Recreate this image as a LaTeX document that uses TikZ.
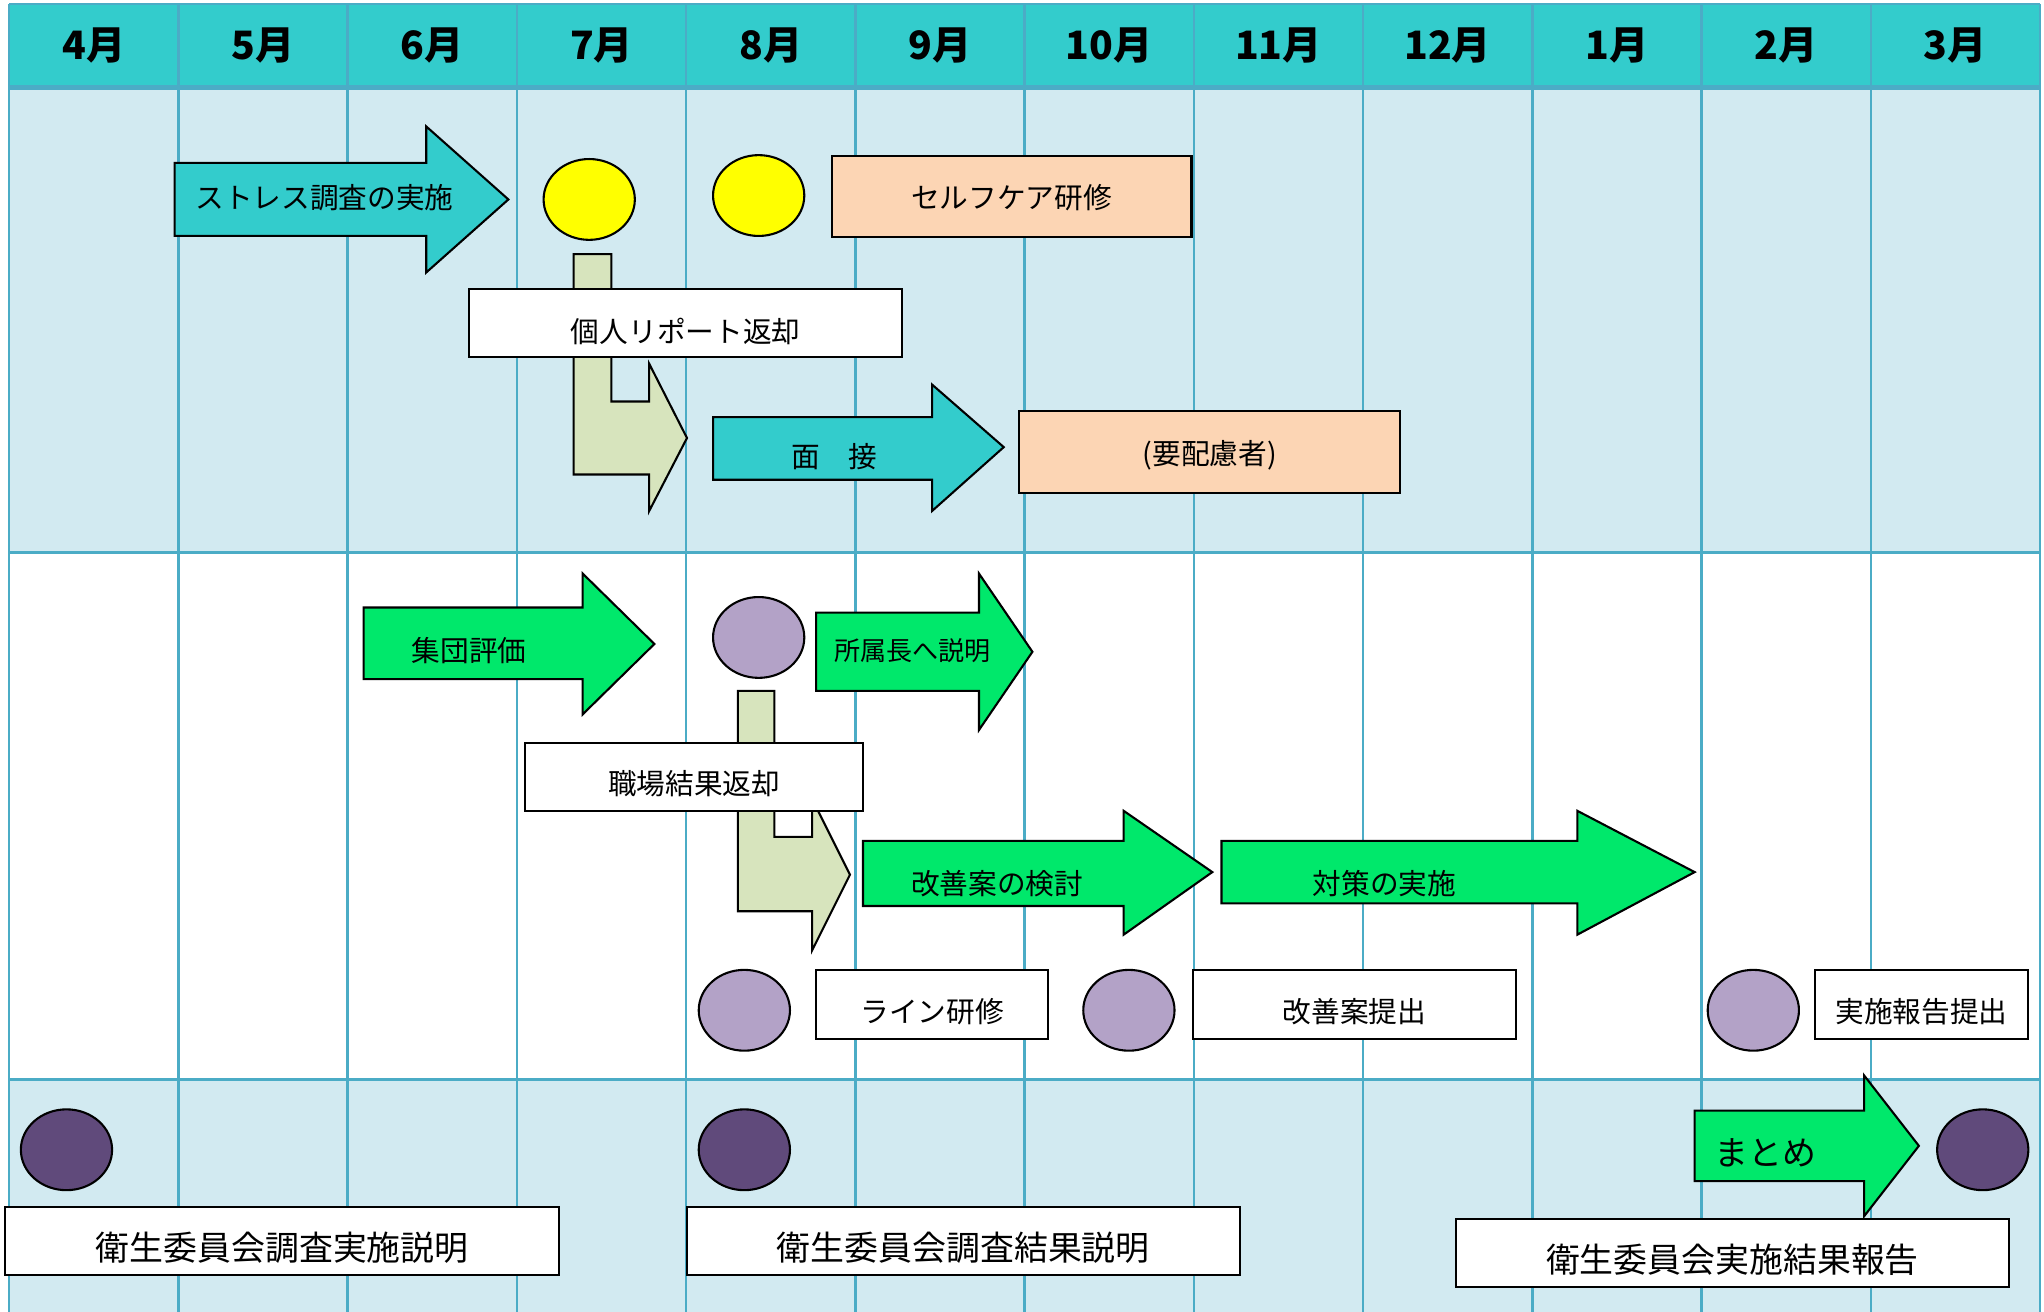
\documentclass[tikz,border=0pt]{standalone}
\usepackage{fontspec}
\setmainfont{Noto Sans CJK JP}
\usetikzlibrary{shapes.geometric}
\definecolor{rowblue}{HTML}{D2EAF1}
\definecolor{gridc}{HTML}{4BACC6}
\definecolor{headc}{HTML}{33CCCC}
\definecolor{tealc}{HTML}{33CCCC}
\definecolor{peach}{HTML}{FCD5B4}
\definecolor{olive}{HTML}{D7E4BD}
\definecolor{gr}{HTML}{00E86B}
\definecolor{lpur}{HTML}{B3A2C7}
\definecolor{dpur}{HTML}{604A7B}
\definecolor{yel}{HTML}{FFFF00}
\tikzset{
  shp/.style={draw=black, line width=0.8pt, line join=miter},
  box/.style={draw=black, line width=0.8pt, inner sep=0pt, minimum height=26pt},
  lbl/.style={inner sep=0pt, font=\fontsize{11}{13}\selectfont},
  lblbig/.style={inner sep=0pt, font=\fontsize{13}{15}\selectfont},
  dot/.style={ellipse, draw=black, line width=0.8pt, minimum width=35pt, minimum height=31pt, inner sep=0pt},
  month/.style={inner sep=0pt, font=\fontsize{15}{17}\selectfont\bfseries},
  gridl/.style={draw=gridc, line width=1pt},
}
\begin{document}
\begin{tikzpicture}[x=0.5pt,y=-0.5pt]
\useasboundingbox (0,0) rectangle (1568,1006.4);
% backgrounds
\fill[white] (0,0) rectangle (1568,1006.4);
\fill[headc] (7,3) rectangle (1565,67);
\fill[rowblue] (7,67) rectangle (1565,424);
\fill[rowblue] (7,828) rectangle (1565,1006.4);
% grid
\foreach \i in {0,...,12} {
  \draw[gridl] ({7+129.83*\i},3) -- ({7+129.83*\i},1006.4);
}
\draw[gridl] (7,3) -- (1565,3);
\draw[draw=gridc, line width=2pt] (7,67) -- (1565,67);
\draw[gridl] (7,424) -- (1565,424);
\draw[gridl] (7,828) -- (1565,828);
% months
\foreach \m [count=\i from 0] in {4,5,6,7,8,9,10,11,12,1,2,3} {
  \node[month] (m\i) at ({71.9+129.83*\i},35) {\m 月};
}
% ---- row 1 ----
\draw[shp, fill=tealc] (134,125) -- (327,125) -- (327,97) -- (390,153) -- (327,209) -- (327,181) -- (134,181) -- cycle;
\node[lbl] (t1) at (249,152) {ストレス調査の実施};
\node[dot, fill=yel] (y1) at (452,153) {};
\node[dot, fill=yel] (y2) at (582,150) {};
\node[box, fill=peach, minimum width=138pt, minimum height=31pt] (selfcare) at (776,151) {};
\node[lbl] (selfcaret) at ([yshift=-0.3pt]selfcare.center) {セルフケア研修};
\draw[shp, fill=olive] (440,195) -- (469,195) -- (469,308) -- (498,308) -- (498,279) -- (527,336) -- (498,392) -- (498,364) -- (440,364) -- cycle;
\node[box, fill=white, minimum width=166pt] (kojin) at (526,248) {};
\node[lbl] (kojint) at ([yshift=-3pt]kojin.center) {個人リポート返却};
\draw[shp, fill=tealc] (547,320) -- (715,320) -- (715,295) -- (770,343) -- (715,392) -- (715,368) -- (547,368) -- cycle;
\node[lbl] (mensetsu) at (640,350) {面　接};
\node[box, fill=peach, minimum width=146pt, minimum height=31.5pt] (yohairyo) at (928,346.5) {};
\node[lbl] (yohairyot) at ([yshift=-1.2pt]yohairyo.center) {(要配慮者)};
% ---- row 2 ----
\draw[shp, fill=gr] (279,466) -- (447,466) -- (447,440) -- (502,494) -- (447,548) -- (447,521) -- (279,521) -- cycle;
\node[lbl] (shudan) at (360,499) {集団評価};
\node[dot, fill=lpur] (p1) at (582,489) {};
\draw[shp, fill=gr] (626,470) -- (751,470) -- (751,440) -- (792,500) -- (751,560) -- (751,530) -- (626,530) -- cycle;
\node[inner sep=0pt, font=\fontsize{10}{12}\selectfont] (shozoku) at (700,499) {所属長へ説明};
\draw[shp, fill=olive] (566,530) -- (594,530) -- (594,642) -- (623,642) -- (623,613) -- (652,671) -- (623,729) -- (623,699) -- (566,699) -- cycle;
\node[box, fill=white, minimum width=129.5pt] (shokuba) at (532.5,596) {};
\node[lbl] (shokubat) at ([yshift=-2.5pt]shokuba.center) {職場結果返却};
\draw[shp, fill=gr] (662,645) -- (862,645) -- (862,622) -- (930,669) -- (862,717) -- (862,695) -- (662,695) -- cycle;
\node[lbl] (kaizen) at (765,678) {改善案の検討};
\draw[shp, fill=gr] (937,645) -- (1210,645) -- (1210,622) -- (1300,669) -- (1210,717) -- (1210,693) -- (937,693) -- cycle;
\node[lbl] (taisaku) at (1062,678) {対策の実施};
\node[dot, fill=lpur] (p2) at (571,775) {};
\node[box, fill=white, minimum width=89pt, minimum height=26.5pt] (line) at (715,770.5) {};
\node[lbl] (linet) at ([yshift=-2.7pt]line.center) {ライン研修};
\node[dot, fill=lpur] (p3) at (866,775) {};
\node[box, fill=white, minimum width=124pt, minimum height=26.5pt] (teishutsu) at (1039,770.5) {};
\node[lbl] (teishutsut) at ([yshift=-2.7pt]teishutsu.center) {改善案提出};
\node[dot, fill=lpur] (p4) at (1345,775) {};
\node[box, fill=white, minimum width=82pt, minimum height=26.5pt] (jisshi) at (1474,770.5) {};
\node[lbl] (jisshit) at ([yshift=-2.7pt]jisshi.center) {実施報告提出};
% ---- row 3 ----
\node[dot, fill=dpur] (d1) at (51,882) {};
\node[dot, fill=dpur] (d2) at (571,882) {};
\node[dot, fill=dpur] (d3) at (1521,882) {};
\node[box, fill=white, minimum width=212.5pt] (eisei1) at (216.5,952) {};
\node[lblbig] (eisei1t) at ([yshift=-2.5pt]eisei1.center) {衛生委員会調査実施説明};
\node[box, fill=white, minimum width=212pt] (eisei2) at (739,952) {};
\node[lblbig] (eisei2t) at ([yshift=-2.5pt]eisei2.center) {衛生委員会調査結果説明};
\draw[shp, fill=gr] (1300,852) -- (1430,852) -- (1430,825) -- (1472,879) -- (1430,933) -- (1430,906) -- (1300,906) -- cycle;
\node[lblbig] (matome) at (1354,884) {まとめ};
\node[box, fill=white, minimum width=212pt] (eisei3) at (1329,961) {};
\node[lblbig] (eisei3t) at ([yshift=-2.5pt]eisei3.center) {衛生委員会実施結果報告};
\end{tikzpicture}
\end{document}
